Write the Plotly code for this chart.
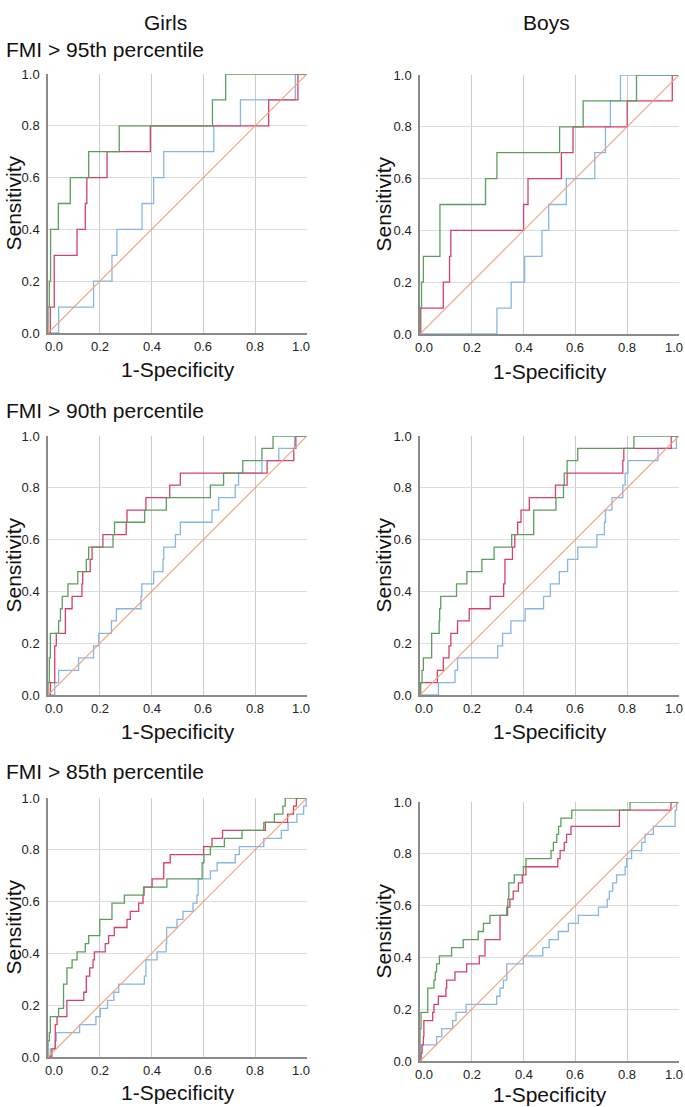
import plotly.graph_objects as go

# ---------------- data (1-Specificity, Sensitivity) step points ----------------
# Girls, FMI > 95th percentile
g95_green_x = [0, 0, 0.005, 0.01, 0.04, 0.086, 0.157, 0.275, 0.635, 0.686, 1]
g95_green_y = [0, 0.1, 0.2, 0.4, 0.5, 0.6, 0.7, 0.8, 0.9, 1.0, 1]
g95_red_x = [0, 0.009, 0.024, 0.112, 0.144, 0.15, 0.228, 0.395, 0.852, 0.965, 1]
g95_red_y = [0, 0.1, 0.3, 0.4, 0.5, 0.6, 0.7, 0.8, 0.9, 1.0, 1]
g95_blue_x = [0, 0.041, 0.176, 0.247, 0.266, 0.363, 0.408, 0.447, 0.64, 0.743, 0.955, 1]
g95_blue_y = [0, 0.1, 0.2, 0.3, 0.4, 0.5, 0.6, 0.7, 0.8, 0.9, 1.0, 1]

# Boys, FMI > 95th percentile
b95_green_x = [0, 0, 0.006, 0.013, 0.077, 0.253, 0.297, 0.539, 0.63, 0.836, 1]
b95_green_y = [0, 0.1, 0.2, 0.3, 0.5, 0.6, 0.7, 0.8, 0.9, 1.0, 1]
b95_red_x = [0, 0.003, 0.09, 0.114, 0.119, 0.4, 0.417, 0.546, 0.591, 0.8, 0.974, 1]
b95_red_y = [0, 0.1, 0.2, 0.3, 0.4, 0.5, 0.6, 0.7, 0.8, 0.9, 1.0, 1]
b95_blue_x = [0, 0.297, 0.352, 0.404, 0.471, 0.497, 0.565, 0.675, 0.716, 0.735, 0.774, 1]
b95_blue_y = [0, 0.1, 0.2, 0.3, 0.4, 0.5, 0.6, 0.7, 0.8, 0.9, 1.0, 1]

# Girls, FMI > 90th percentile
g90_green_x = [0, 0, 0.005, 0.009, 0.041, 0.048, 0.055, 0.077, 0.115, 0.148, 0.157, 0.251,
               0.257, 0.373, 0.457, 0.627, 0.678, 0.752, 0.826, 0.869, 1]
g90_green_y = [0, 0.048, 0.143, 0.238, 0.286, 0.333, 0.381, 0.429, 0.476, 0.524, 0.571, 0.619,
               0.667, 0.714, 0.762, 0.81, 0.857, 0.905, 0.952, 1.0, 1]
g90_red_x = [0, 0.009, 0.026, 0.032, 0.067, 0.093, 0.131, 0.134, 0.163, 0.17, 0.212, 0.302,
             0.305, 0.378, 0.47, 0.511, 0.846, 0.949, 0.957, 1]
g90_red_y = [0, 0.048, 0.19, 0.238, 0.333, 0.381, 0.429, 0.476, 0.524, 0.571, 0.619, 0.667,
             0.714, 0.762, 0.81, 0.857, 0.905, 0.952, 1.0, 1]
g90_blue_x = [0, 0.026, 0.041, 0.118, 0.176, 0.196, 0.245, 0.264, 0.359, 0.362, 0.408, 0.444,
              0.447, 0.492, 0.511, 0.633, 0.659, 0.723, 0.736, 0.826, 0.891, 0.952, 1]
g90_blue_y = [0, 0.048, 0.095, 0.143, 0.19, 0.238, 0.286, 0.333, 0.381, 0.429, 0.476, 0.524,
              0.571, 0.619, 0.667, 0.714, 0.762, 0.81, 0.857, 0.905, 0.952, 1.0, 1]

# Boys, FMI > 90th percentile
b90_green_x = [0, 0.003, 0.008, 0.013, 0.045, 0.074, 0.076, 0.08, 0.141, 0.181, 0.239, 0.286,
               0.354, 0.439, 0.525, 0.554, 0.557, 0.568, 0.609, 0.826, 1]
b90_green_y = [0, 0.048, 0.095, 0.143, 0.238, 0.286, 0.333, 0.381, 0.429, 0.476, 0.524, 0.571,
               0.619, 0.714, 0.762, 0.81, 0.857, 0.905, 0.952, 1.0, 1]
b90_red_x = [0, 0, 0.067, 0.09, 0.112, 0.119, 0.145, 0.19, 0.271, 0.323, 0.328, 0.357, 0.366,
             0.377, 0.39, 0.422, 0.523, 0.568, 0.783, 0.787, 0.97, 1]
b90_red_y = [0, 0.048, 0.095, 0.143, 0.19, 0.238, 0.286, 0.333, 0.381, 0.429, 0.524, 0.571, 0.619,
             0.667, 0.714, 0.762, 0.81, 0.857, 0.905, 0.952, 1.0, 1]
b90_blue_x = [0, 0.071, 0.135, 0.145, 0.3, 0.319, 0.351, 0.406, 0.477, 0.503, 0.538, 0.57, 0.609,
              0.683, 0.712, 0.716, 0.741, 0.783, 0.792, 0.803, 0.919, 0.99, 1]
b90_blue_y = [0, 0.048, 0.095, 0.143, 0.19, 0.238, 0.286, 0.333, 0.381, 0.429, 0.476, 0.524, 0.571,
              0.619, 0.667, 0.714, 0.762, 0.81, 0.857, 0.905, 0.952, 1.0, 1]

# Girls, FMI > 85th percentile
g85_green_x = [0, 0, 0.005, 0.009, 0.041, 0.06, 0.073, 0.093, 0.112, 0.144, 0.157, 0.2, 0.247,
               0.295, 0.369, 0.459, 0.595, 0.602, 0.627, 0.681, 0.749, 0.833, 0.874, 0.907, 0.916, 1]
g85_green_y = [0, 0.0625, 0.094, 0.156, 0.1875, 0.281, 0.344, 0.375, 0.406, 0.438, 0.469, 0.531, 0.594,
               0.625, 0.656, 0.6875, 0.75, 0.781, 0.8125, 0.844, 0.875, 0.906, 0.9375, 0.969, 1.0, 1]
g85_red_x = [0, 0.015, 0.028, 0.035, 0.073, 0.138, 0.148, 0.161, 0.174, 0.179, 0.221, 0.234, 0.256,
             0.305, 0.318, 0.35, 0.367, 0.371, 0.402, 0.447, 0.472, 0.601, 0.633, 0.674, 0.839, 0.925,
             0.948, 0.959, 1]
g85_red_y = [0, 0.031, 0.125, 0.156, 0.219, 0.25, 0.3125, 0.344, 0.375, 0.406, 0.4375, 0.469, 0.5,
             0.531, 0.5625, 0.594, 0.625, 0.656, 0.6875, 0.75, 0.781, 0.8125, 0.844, 0.875, 0.906, 0.9375,
             0.969, 1.0, 1]
g85_blue_x = [0, 0.009, 0.028, 0.032, 0.122, 0.185, 0.202, 0.23, 0.254, 0.273, 0.372, 0.378, 0.421,
              0.456, 0.458, 0.498, 0.521, 0.56, 0.575, 0.58, 0.627, 0.653, 0.723, 0.739, 0.833, 0.901,
              0.927, 0.961, 0.987, 0.997, 1]
g85_blue_y = [0, 0.031, 0.0625, 0.094, 0.125, 0.156, 0.1875, 0.219, 0.25, 0.281, 0.3125, 0.375, 0.406,
              0.4375, 0.5, 0.531, 0.5625, 0.594, 0.625, 0.6875, 0.719, 0.75, 0.781, 0.8125, 0.844, 0.875,
              0.906, 0.9375, 0.969, 1.0, 1]

# Boys, FMI > 85th percentile
b85_green_x = [0, 0, 0.004, 0.03, 0.054, 0.059, 0.064, 0.075, 0.122, 0.167, 0.225, 0.245, 0.27, 0.335,
               0.339, 0.343, 0.364, 0.399, 0.409, 0.506, 0.515, 0.528, 0.535, 0.544, 0.586, 0.811, 1]
b85_green_y = [0, 0.125, 0.1875, 0.281, 0.3125, 0.344, 0.375, 0.406, 0.438, 0.469, 0.5, 0.531, 0.5625,
               0.594, 0.625, 0.6875, 0.719, 0.75, 0.781, 0.8125, 0.844, 0.875, 0.906, 0.9375, 0.969, 1.0, 1]
b85_red_x = [0, 0.004, 0.008, 0.013, 0.015, 0.049, 0.054, 0.071, 0.1, 0.103, 0.135, 0.18, 0.229, 0.251,
             0.309, 0.338, 0.347, 0.36, 0.38, 0.395, 0.409, 0.532, 0.541, 0.557, 0.566, 0.583, 0.77, 0.969, 1]
b85_red_y = [0, 0.031, 0.0625, 0.094, 0.156, 0.1875, 0.219, 0.25, 0.281, 0.3125, 0.344, 0.375, 0.406,
             0.469, 0.5625, 0.594, 0.625, 0.656, 0.6875, 0.719, 0.75, 0.781, 0.8125, 0.844, 0.875, 0.906,
             0.969, 1.0, 1]
b85_blue_x = [0, 0.004, 0.064, 0.084, 0.126, 0.139, 0.178, 0.296, 0.309, 0.322, 0.335, 0.399, 0.474,
              0.499, 0.534, 0.573, 0.611, 0.689, 0.723, 0.731, 0.744, 0.759, 0.792, 0.798, 0.817, 0.856,
              0.869, 0.901, 0.985, 0.991, 1]
b85_blue_y = [0, 0.0625, 0.094, 0.125, 0.156, 0.1875, 0.219, 0.25, 0.281, 0.3125, 0.375, 0.406, 0.438,
              0.469, 0.5, 0.531, 0.5625, 0.594, 0.625, 0.656, 0.6875, 0.719, 0.75, 0.781, 0.8125, 0.844,
              0.875, 0.906, 0.969, 1.0, 1]

reference_x = [0, 1]
reference_y = [0, 1]

column_titles = ["Girls", "Boys"]
row_titles = ["FMI > 95th percentile", "FMI > 90th percentile", "FMI > 85th percentile"]
x_title = "1-Specificity"
y_title = "Sensitivity"
tick_vals = [0, 0.2, 0.4, 0.6, 0.8, 1.0]
tick_text = ["0.0", "0.2", "0.4", "0.6", "0.8", "1.0"]

panels = [
    (g95_blue_x, g95_blue_y, g95_red_x, g95_red_y, g95_green_x, g95_green_y),
    (b95_blue_x, b95_blue_y, b95_red_x, b95_red_y, b95_green_x, b95_green_y),
    (g90_blue_x, g90_blue_y, g90_red_x, g90_red_y, g90_green_x, g90_green_y),
    (b90_blue_x, b90_blue_y, b90_red_x, b90_red_y, b90_green_x, b90_green_y),
    (g85_blue_x, g85_blue_y, g85_red_x, g85_red_y, g85_green_x, g85_green_y),
    (b85_blue_x, b85_blue_y, b85_red_x, b85_red_y, b85_green_x, b85_green_y),
]

# ---------------- layout geometry (pixels) ----------------
W, H = 685, 1107
col_px = [(48, 307), (420, 679)]
row_px = [[(74, 333), (75, 334)], [(436, 695), (436, 695)], [(798, 1057), (802, 1061)]]
xtitle_px = [[370, 371], [731, 731], [1092, 1094]]
ytitle_px = [13, 383]
# inward shift of the end x tick labels (px) per column
end_shift = [(6, -6), (4, -5)]

BLUE = "#86b6e6"
RED = "#d6406a"
GREEN = "#5c9e5c"
ORANGE = "#f2a27c"
FONT = "Liberation Sans, Arial, sans-serif"
TXT = "#111111"

fig = go.Figure()
layout_axes = {}
annotations = []
for i, (bx, by, rx, ry, gx, gy) in enumerate(panels):
    r, c = divmod(i, 2)
    n = i + 1
    xa = "x" if n == 1 else f"x{n}"
    ya = "y" if n == 1 else f"y{n}"
    for xs, ys, col in [(bx, by, BLUE), (rx, ry, RED), (gx, gy, GREEN)]:
        fig.add_trace(go.Scatter(x=xs, y=ys, mode="lines", line=dict(color=col, width=1.3, shape="hv"),
                                 xaxis=xa, yaxis=ya, showlegend=False, hoverinfo="skip"))
    fig.add_trace(go.Scatter(x=reference_x, y=reference_y, mode="lines",
                             line=dict(color=ORANGE, width=1.2), xaxis=xa, yaxis=ya,
                             showlegend=False, hoverinfo="skip"))
    x0, x1 = col_px[c]
    y0, y1 = row_px[r][c]
    common = dict(range=[0, 1], tickvals=tick_vals, ticktext=tick_text, ticks="",
                  tickfont=dict(family=FONT, size=13, color="#222"), showline=True,
                  zeroline=False, fixedrange=True, layer="below traces", automargin=False)
    layout_axes["xaxis" if n == 1 else f"xaxis{n}"] = dict(
        common, domain=[x0 / W, x1 / W], anchor=ya, gridcolor="#cccccc", gridwidth=1,
        linecolor="#8a8a8a", linewidth=1.5, showticklabels=False)
    layout_axes["yaxis" if n == 1 else f"yaxis{n}"] = dict(
        common, domain=[1 - y1 / H, 1 - y0 / H], anchor=xa, gridcolor="#dcdcdc", gridwidth=1.3,
        linecolor="#8a8a8a", linewidth=1.5, ticklabelstandoff=4)
    # x tick labels (placed on the x scale, ends nudged inward like the original)
    for k, (tv, tt) in enumerate(zip(tick_vals, tick_text)):
        shift = end_shift[c][0] if k == 0 else (end_shift[c][1] if k == len(tick_vals) - 1 else 0)
        annotations.append(dict(text=tt, x=tv, y=0, xref=xa, yref=f"{ya} domain", showarrow=False,
                                xanchor="center", yanchor="top", xshift=shift, yshift=-4,
                                font=dict(family=FONT, size=13, color="#222")))
    # axis titles
    annotations.append(dict(text=x_title, x=(x0 + x1) / 2 / W, y=1 - xtitle_px[r][c] / H, xref="paper",
                            yref="paper", showarrow=False, xanchor="center", yanchor="middle",
                            font=dict(family=FONT, size=21, color=TXT)))
    annotations.append(dict(text=y_title, x=ytitle_px[c] / W, y=1 - (y0 + y1) / 2 / H, xref="paper",
                            yref="paper", showarrow=False, xanchor="center", yanchor="middle",
                            textangle=-90, font=dict(family=FONT, size=21, color=TXT)))

for txt, px in zip(column_titles, [165, 546]):
    annotations.append(dict(text=txt, x=px / W, y=1 - 22 / H, xref="paper", yref="paper",
                            showarrow=False, xanchor="center", yanchor="middle",
                            font=dict(family=FONT, size=21, color=TXT)))
for txt, py in zip(row_titles, [50, 410, 772]):
    annotations.append(dict(text=txt, x=4 / W, y=1 - py / H, xref="paper", yref="paper",
                            showarrow=False, xanchor="left", yanchor="middle",
                            font=dict(family=FONT, size=21, color=TXT)))

fig.update_layout(width=W, height=H, margin=dict(l=0, r=0, t=0, b=0),
                  paper_bgcolor="white", plot_bgcolor="white", annotations=annotations,
                  **layout_axes)
fig.write_html("out.html", config={"displayModeBar": False},
               post_script="document.body.style.margin='0px';document.body.style.overflow='hidden';")
